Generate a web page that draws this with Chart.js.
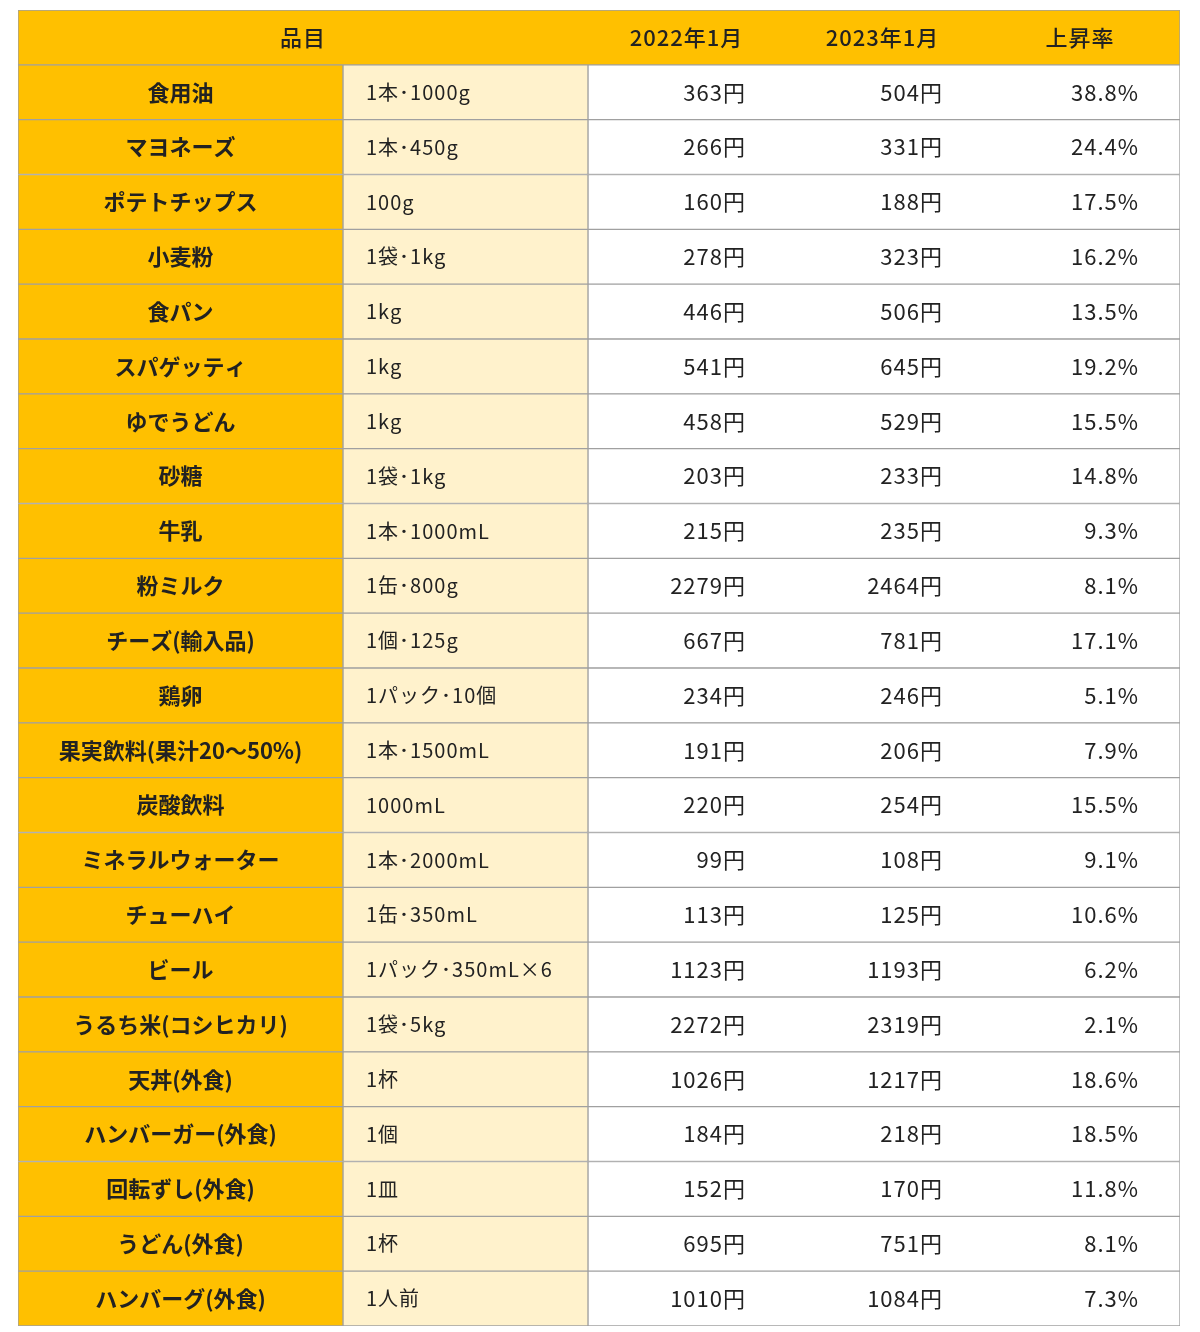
<!DOCTYPE html>
<html><head><meta charset="utf-8">
<script src="https://cdn.jsdelivr.net/npm/chart.js@4"></script>
<style>html,body{margin:0;padding:0;background:#fff}#w{width:1200px;height:1332px}</style>
</head><body><div id="w"><canvas id="c"></canvas></div>
<script>
const headers = ["品目", "2022年1月", "2023年1月", "上昇率"];
const items = ["食用油","マヨネーズ","ポテトチップス","小麦粉","食パン","スパゲッティ","ゆでうどん","砂糖","牛乳","粉ミルク","チーズ(輸入品)","鶏卵","果実飲料(果汁20～50%)","炭酸飲料","ミネラルウォーター","チューハイ","ビール","うるち米(コシヒカリ)","天丼(外食)","ハンバーガー(外食)","回転ずし(外食)","うどん(外食)","ハンバーグ(外食)"];
const units = ["1本･1000g","1本･450g","100g","1袋･1kg","1kg","1kg","1kg","1袋･1kg","1本･1000mL","1缶･800g","1個･125g","1パック･10個","1本･1500mL","1000mL","1本･2000mL","1缶･350mL","1パック･350mL×6","1袋･5kg","1杯","1個","1皿","1杯","1人前"];
const price2022 = [363,266,160,278,446,541,458,203,215,2279,667,234,191,220,99,113,1123,2272,1026,184,152,695,1010];
const price2023 = [504,331,188,323,506,645,529,233,235,2464,781,246,206,254,108,125,1193,2319,1217,218,170,751,1084];
const riseRate = [38.8,24.4,17.5,16.2,13.5,19.2,15.5,14.8,9.3,8.1,17.1,5.1,7.9,15.5,9.1,10.6,6.2,2.1,18.6,18.5,11.8,8.1,7.3];

const rows = ["header", ...items];
const X = [18,343,588,785,980,1180];
function col(a,b){return rows.map((r,i)=>i===0?null:[X[a],X[b]]);}
const ds = [
 {data: rows.map((r,i)=>i===0?[X[0],X[5]]:null), backgroundColor:'#FFC000'},
 {data: col(0,1), backgroundColor:'#FFC000'},
 {data: col(1,2), backgroundColor:'#FFF2CC'},
 {data: col(2,5), backgroundColor:'#FFFFFF'},
].map(d=>Object.assign(d,{grouped:false,barPercentage:1,categoryPercentage:1,borderColor:'#a0a0a0',borderWidth:1,borderSkipped:false}));

const textPlugin = {id:'txt', afterDatasetsDraw(chart){
  const c=chart.ctx, xs=chart.scales.x, ys=chart.scales.y;
  c.save(); c.fillStyle='#222'; c.textBaseline='middle';
  const px=v=>xs.getPixelForValue(v);
  let y=ys.getPixelForValue(0);
  c.font='500 22px "Noto Sans CJK JP"'; c.textAlign='center'; c.letterSpacing='1px';
  c.fillText(headers[0],(px(X[0])+px(X[2]))/2,y);
  c.fillText(headers[1],(px(X[2])+px(X[3]))/2,y);
  c.fillText(headers[2],(px(X[3])+px(X[4]))/2,y);
  c.fillText(headers[3],(px(X[4])+px(X[5]))/2,y);
  items.forEach((it,i)=>{
    y=ys.getPixelForValue(i+1);
    c.letterSpacing='0px';
    c.font='bold 22px "Noto Sans CJK JP"'; c.textAlign='center';
    c.fillText(it,(px(X[0])+px(X[1]))/2,y);
    c.letterSpacing='1px';
    c.font='20px "Noto Sans CJK JP"'; c.textAlign='left';
    c.fillText(units[i],px(X[1])+23,y);
    c.font='22px "Noto Sans CJK JP"'; c.textAlign='right';
    c.fillText(price2022[i]+'円',px(X[3])-39,y);
    c.fillText(price2023[i]+'円',px(X[4])-37,y);
    c.fillText(riseRate[i].toFixed(1)+'%',px(X[5])-41,y);
  });
  c.restore();
}};

new Chart(document.getElementById('c'),{
 type:'bar',
 data:{labels:rows,datasets:ds},
 options:{indexAxis:'y',responsive:true,maintainAspectRatio:false,animation:false,
  layout:{padding:{left:18,right:20,top:10,bottom:6}},
  plugins:{legend:{display:false},tooltip:{enabled:false}},
  scales:{x:{type:'linear',min:X[0],max:X[5],display:false},y:{display:false,offset:true}}},
 plugins:[textPlugin]
});
</script></body></html>
